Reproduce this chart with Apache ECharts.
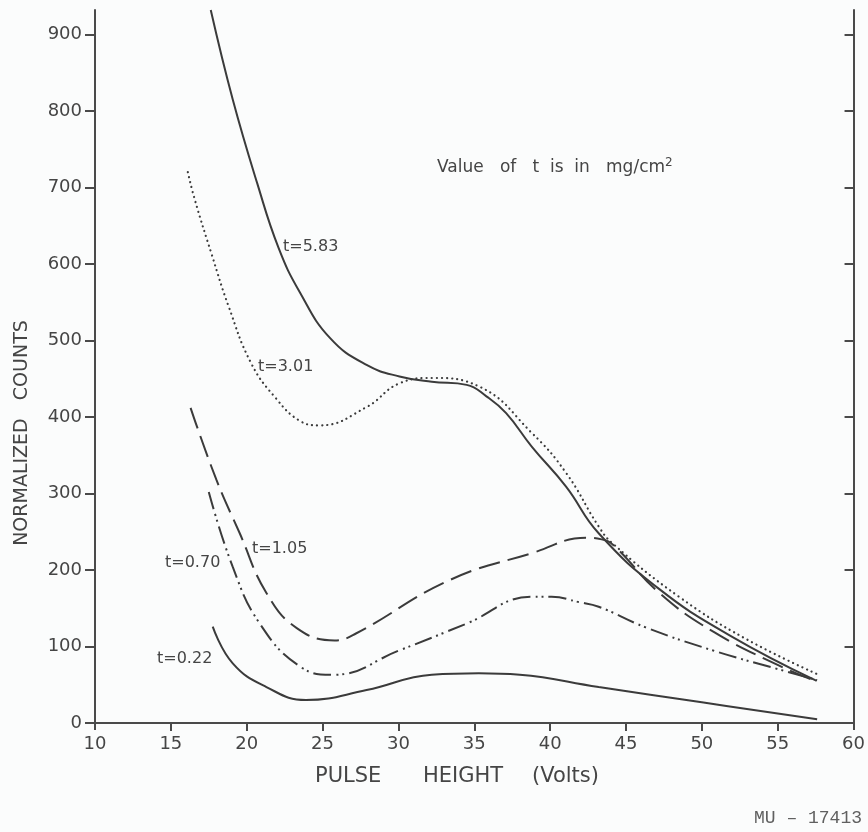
<!DOCTYPE html>
<html>
<head>
<meta charset="utf-8">
<title>Normalized counts vs pulse height</title>
<script src="https://cdn.jsdelivr.net/npm/echarts@6/dist/echarts.min.js"></script>
<style>
  html, body { margin: 0; padding: 0; background: #fbfcfc; }
  #chart { width: 868px; height: 832px; }
</style>
</head>
<body>
<div id="chart"></div>
<script>
// Absorber thickness t (mg/cm^2) for each curve
const thickness = ['5.83', '3.01', '1.05', '0.70', '0.22'];

// Pulse height (volts) and normalized counts, one pair of arrays per curve
const x583 = [17.63, 19.08, 20.7, 22.1, 23.5, 25.5, 27.9, 30.07, 32.2, 34.5, 35.8, 37.1, 38.8, 41.05, 43.2, 47.2, 51.8, 57.57];
const y583 = [932, 815, 705, 621, 563, 503, 468, 453, 446, 442, 427, 405, 361, 309, 248, 175, 115, 55];

const x301 = [16.12, 16.58, 17.7, 18.8, 20.3, 21.9, 23.5, 24.8, 27.9, 30.07, 32.2, 35.3, 38.8, 41.05, 43.2, 44.1, 48.5, 52.9, 57.7];
const y301 = [720, 684, 612, 545, 470, 425, 395, 389, 413, 444, 451, 440, 379, 327, 257, 235, 165, 110, 63];

const x105 = [16.3, 18.0, 19.54, 21.3, 23.3, 25.8, 27.2, 33.4, 38.8, 42.4, 43.4, 44.2, 47.2, 50.7, 55.1, 57.6];
const y105 = [412, 318, 248, 170, 124, 108, 117, 187, 222, 242, 240, 232, 170, 120, 75, 54];

const x070 = [17.5, 19.08, 20.86, 23.5, 25.7, 30.07, 34.5, 38.8, 40.1, 41.9, 43.2, 46.3, 50.7, 55.1, 57.6];
const y070 = [302, 204, 130, 74, 63, 95, 130, 165, 165, 158, 152, 125, 95, 70, 56];

const x022 = [17.76, 19.08, 21.3, 23.9, 27.9, 32.2, 35.3, 38.0, 43.2, 50.0, 57.6];
const y022 = [126, 78, 47, 30, 43, 63, 65, 63, 47, 27, 5];

// Axis tick values
const xTicks = [10, 15, 20, 25, 30, 35, 40, 45, 50, 55, 60];
const xInnerTicks = [15, 20, 25, 30, 35, 40, 45, 50, 55];
const yTicks = [0, 100, 200, 300, 400, 500, 600, 700, 800, 900];
const yInnerTicks = [100, 200, 300, 400, 500, 600, 700, 800, 900];

const pair = (xs, ys) => xs.map((v, i) => [v, ys[i]]);

const ink = '#3b3b3b';
const textInk = '#454545';
const font = 'DejaVu Sans';

const curves = [
  { data: pair(x583, y583), type: 'solid', width: 2 },
  { data: pair(x301, y301), type: [0.1, 5], width: 2.2, cap: 'round' },
  { data: pair(x105, y105), type: [22, 8], width: 2 },
  { data: pair(x070, y070), type: [18, 5, 2, 4, 2, 5], width: 2 },
  { data: pair(x022, y022), type: 'solid', width: 2 }
];

const chart = echarts.init(document.getElementById('chart'), null, { renderer: 'canvas' });

const labelPos = [
  [283, 248], [258, 368], [252, 550], [165, 564], [157, 660]
];

const axisInk = { color: '#4a4a4a', width: 2 };

const option = {
  backgroundColor: '#fbfcfc',
  animation: false,
  grid: { left: 95, right: 13, top: 10, bottom: 109 },
  xAxis: [
    {
      type: 'value', min: 10, max: 60, interval: 5, position: 'bottom',
      axisLine: { show: true, lineStyle: axisInk },
      axisTick: { show: true, inside: false, length: 7, lineStyle: axisInk, customValues: xTicks },
      axisLabel: { fontFamily: font, fontSize: 18, color: textInk, margin: 12, customValues: xTicks },
      splitLine: { show: false }
    },
    {
      type: 'value', min: 10, max: 60, interval: 5, position: 'top',
      axisLine: { show: true, lineStyle: axisInk },
      axisTick: { show: true, inside: true, length: 8, lineStyle: axisInk, customValues: xInnerTicks },
      axisLabel: { show: false },
      splitLine: { show: false }
    }
  ],
  yAxis: [
    {
      type: 'value', min: 0, max: 932, interval: 100, position: 'left',
      axisLine: { show: true, lineStyle: axisInk },
      axisTick: { show: true, inside: false, length: 10, lineStyle: axisInk, customValues: yTicks },
      axisLabel: { fontFamily: font, fontSize: 18, color: textInk, margin: 13, customValues: yTicks },
      splitLine: { show: false }
    },
    {
      type: 'value', min: 0, max: 932, interval: 100, position: 'right',
      axisLine: { show: true, lineStyle: axisInk },
      axisTick: { show: true, inside: true, length: 9, lineStyle: axisInk, customValues: yInnerTicks },
      axisLabel: { show: false },
      splitLine: { show: false }
    }
  ],
  series: curves.map(c => ({
    type: 'line',
    xAxisIndex: 0,
    yAxisIndex: 0,
    data: c.data,
    smooth: 0.45,
    showSymbol: false,
    clip: true,
    lineStyle: { color: ink, width: c.width, type: c.type, cap: c.cap || 'butt' }
  })),
  graphic: [
    ...thickness.map((t, i) => ({
      type: 'text',
      left: labelPos[i][0],
      top: labelPos[i][1] - 9,
      style: { text: 't=' + t, fontFamily: font, fontSize: 16, fill: textInk }
    })),
    {
      type: 'text',
      left: 437, top: 157,
      style: {
        text: 'Value   of   t  is  in   mg/cm{s|2}',
        fontFamily: font, fontSize: 17, fill: textInk,
        rich: { s: { fontFamily: font, fontSize: 12, fill: textInk, verticalAlign: 'top', padding: [0, 0, 10, 0] } }
      }
    },
    {
      type: 'text',
      x: 22, y: 433, rotation: Math.PI / 2,
      style: {
        text: 'NORMALIZED   COUNTS', fontFamily: font, fontSize: 19, fill: textInk,
        align: 'center', verticalAlign: 'middle'
      }
    },
    { type: 'text', left: 315, top: 766, style: { text: 'PULSE', fontFamily: font, fontSize: 21, fill: textInk } },
    { type: 'text', left: 423, top: 766, style: { text: 'HEIGHT', fontFamily: font, fontSize: 21, fill: textInk } },
    { type: 'text', left: 532, top: 766, style: { text: '(Volts)', fontFamily: font, fontSize: 21, fill: textInk } },
    {
      type: 'text', right: 6, top: 809,
      style: { text: 'MU \u2013 17413', fontFamily: 'Liberation Mono', fontSize: 18, fill: '#606060' }
    }
  ]
};

chart.setOption(option);
</script>
</body>
</html>
